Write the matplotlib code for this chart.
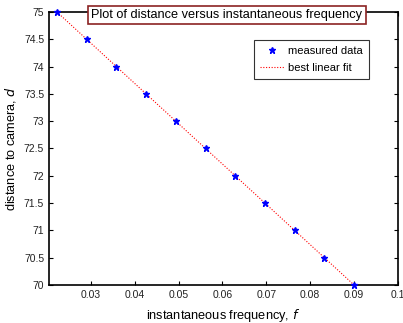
import matplotlib
matplotlib.use("Agg")
import matplotlib.pyplot as plt

freq = [0.0223, 0.0291, 0.0358, 0.0426, 0.0494, 0.0562, 0.0629, 0.0697, 0.0765, 0.0832, 0.0900]
dist = [75.0, 74.5, 74.0, 73.5, 73.0, 72.5, 72.0, 71.5, 71.0, 70.5, 70.0]

# best linear fit end points
fit_x = [0.0223, 0.0900]
fit_y = [75.0, 70.0]

xticks = [0.03, 0.04, 0.05, 0.06, 0.07, 0.08, 0.09, 0.1]
xticklabels = ['0.03', '0.04', '0.05', '0.06', '0.07', '0.08', '0.09', '0.1']
yticks = [70, 70.5, 71, 71.5, 72, 72.5, 73, 73.5, 74, 74.5, 75]
yticklabels = ['70', '70.5', '71', '71.5', '72', '72.5', '73', '73.5', '74', '74.5', '75']

plt.rcParams['font.family'] = ['Liberation Sans', 'DejaVu Sans']

fig = plt.figure(figsize=(4.03, 3.23), dpi=100)
ax = fig.add_axes([0.1216, 0.1176, 0.8660, 0.8454])

ax.plot(freq, dist, linestyle='none', marker='*', markersize=4.5, color='blue',
        label='measured data', zorder=3, clip_on=False)
ax.plot(fit_x, fit_y, linestyle=(0, (1, 1.5)), linewidth=0.8, color='red', label='best linear fit')

ax.set_xlim(0.0205, 0.1)
ax.set_ylim(70, 75)
ax.set_xticks(xticks)
ax.set_xticklabels(xticklabels)
ax.set_yticks(yticks)
ax.set_yticklabels(yticklabels)
ax.tick_params(direction='in', length=3, width=0.8, labelsize=7.5, top=True, right=True,
               colors='black', labelcolor='#222222')
for s in ax.spines.values():
    s.set_linewidth(1.2)

ax.set_xlabel('instantaneous frequency, $\\it{f}$', fontsize=9.2, labelpad=5)
ax.set_ylabel('distance to camera, $\\it{d}$', fontsize=9.2, labelpad=4)

ax.text(0.51, 0.988, 'Plot of distance versus instantaneous frequency', transform=ax.transAxes,
        ha='center', va='center', fontsize=9.2,
        bbox=dict(boxstyle='square,pad=0.25', facecolor='white', edgecolor='#8b2323', linewidth=1.2),
        zorder=5)

leg = ax.legend(loc='upper right', bbox_to_anchor=(0.917, 0.897), borderaxespad=0,
                fontsize=8, frameon=True, fancybox=False, handlelength=2.2,
                handletextpad=0.35, borderpad=0.55, labelspacing=0.6)
leg.get_frame().set_edgecolor('black')
leg.get_frame().set_linewidth(0.8)

fig.savefig('out.png', dpi=100)
